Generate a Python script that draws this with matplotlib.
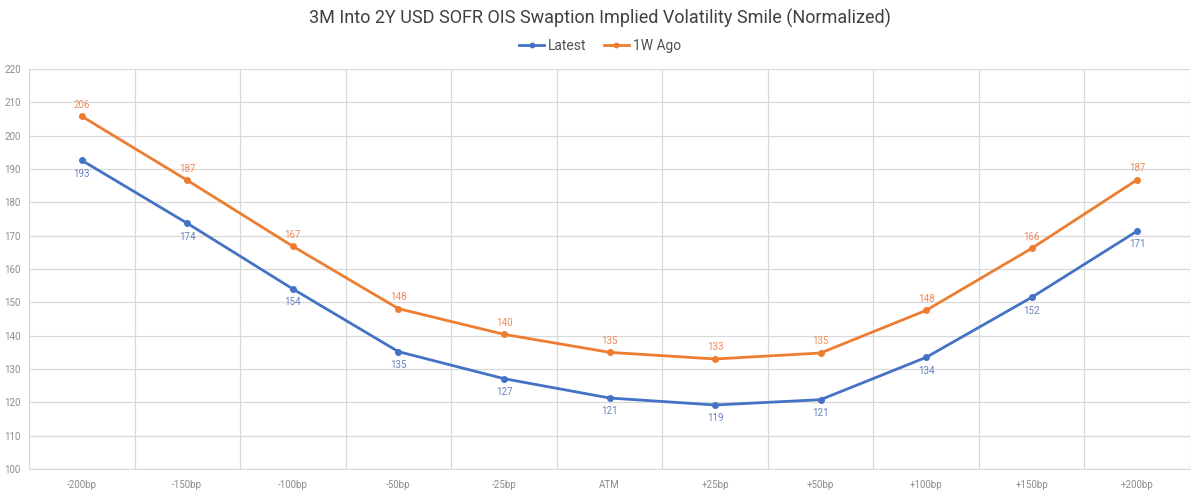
import numpy as np
import matplotlib.pyplot as plt

strikes = ["-200bp", "-150bp", "-100bp", "-50bp", "-25bp", "ATM",
           "+25bp", "+50bp", "+100bp", "+150bp", "+200bp"]
latest = [192.6, 173.7, 154.0, 135.2, 127.1, 121.3, 119.2, 120.8, 133.5, 151.5, 171.4]
week_ago = [205.8, 186.6, 166.8, 148.1, 140.4, 135.0, 133.0, 134.8, 147.6, 166.2, 186.8]

BLUE = "#4472C4"
ORANGE = "#ED7D31"

plt.rcParams["font.family"] = ["Roboto", "DejaVu Sans"]

fig = plt.figure(figsize=(12, 4.93), dpi=100)
ax = fig.add_axes([0.0242, 0.0487, 0.9675, 0.8113])

x = np.arange(len(strikes))
ax.plot(x, latest, "-o", color=BLUE, lw=2, ms=4, label="Latest")
ax.plot(x, week_ago, "-o", color=ORANGE, lw=2, ms=4, label="1W Ago")

# data labels: below for latest, above for 1W ago
for xi, v in zip(x, latest):
    ax.annotate(f"{v:.0f}", (xi, v), xytext=(0, -9.5), textcoords="offset points",
                ha="center", va="center", fontsize=7, color="#6A7FC0")
for xi, v in zip(x, week_ago):
    ax.annotate(f"{v:.0f}", (xi, v), xytext=(0, 8.5), textcoords="offset points",
                ha="center", va="center", fontsize=7, color="#EE8A5A")

ax.set_xlim(-0.5, len(strikes) - 0.5)
ax.set_ylim(100, 220)
ax.set_yticks(np.arange(100, 221, 10))
ax.set_xticks(x)
ax.set_xticklabels(strikes)
ax.set_xticks(np.arange(-0.5, len(strikes), 1), minor=True)
ax.tick_params(axis="both", which="both", length=0, labelsize=7, colors="#8c8c8c")
ax.tick_params(axis="x", pad=8)
ax.tick_params(axis="y", pad=6)

ax.grid(axis="y", which="major", color="#d9d9d9", lw=0.9)
ax.grid(axis="x", which="minor", color="#d9d9d9", lw=0.9)
ax.set_axisbelow(True)
for s in ["top", "right", "left"]:
    ax.spines[s].set_visible(False)
ax.spines["bottom"].set_color("#d9d9d9")

fig.text(0.5, 0.963, "3M Into 2Y USD SOFR OIS Swaption Implied Volatility Smile (Normalized)",
         ha="center", va="center", fontsize=13, color="#404040")
fig.legend(loc="center", bbox_to_anchor=(0.5, 0.906), ncol=2, frameon=False,
           fontsize=10, handlelength=1.8, handletextpad=0.3, columnspacing=1.2,
           markerscale=0.8, labelcolor="#505050")

fig.savefig("out.png", dpi=100)
